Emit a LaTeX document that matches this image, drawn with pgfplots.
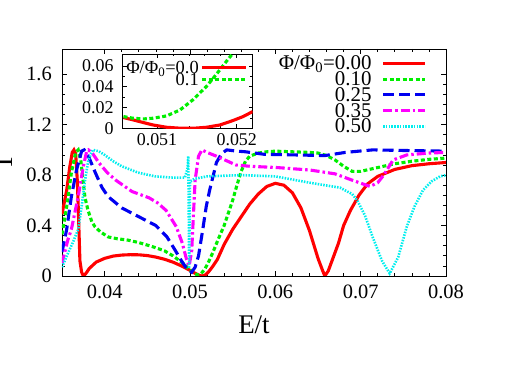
\documentclass[border=0pt]{standalone}
\usepackage{fontspec}
\setmainfont{Liberation Serif}
\usepackage{pgfplots}
\pgfplotsset{compat=1.18}

\definecolor{cred}{RGB}{255,0,0}
\definecolor{cgreen}{RGB}{0,238,0}
\definecolor{cblue}{RGB}{0,0,240}
\definecolor{cmag}{RGB}{255,0,255}
\definecolor{ccyan}{RGB}{0,238,238}

\pgfplotsset{
  redline/.style={cred, line width=3.1bp, solid},
  greenline/.style={cgreen, line width=3.1bp, dash pattern=on 4bp off 2.5bp},
  blueline/.style={cblue, line width=3.1bp, dash pattern=on 11bp off 5bp},
  magline/.style={cmag, line width=3.1bp, dash pattern=on 9bp off 3bp on 2.5bp off 3bp},
  cyanline/.style={ccyan, line width=2.6bp, dash pattern=on 1.5bp off 1.3bp},
}

\begin{document}
\begin{tikzpicture}
\useasboundingbox (0,0) rectangle (523bp,366bp);
\begin{axis}[
  at={(62bp,90bp)}, anchor=south west,
  scale only axis, width=384bp, height=227bp,
  xmin=0.035, xmax=0.08, ymin=0, ymax=1.8,
  scaled ticks=false,
  xtick={0.04,0.05,0.06,0.07,0.08},
  xticklabels={0.04,0.05,0.06,0.07,0.08},
  ytick={0,0.4,0.8,1.2,1.6},
  yticklabels={0,0.4,0.8,1.2,1.6},
  minor x tick num=4, minor y tick num=4,
  tick align=inside,
  major tick length=5bp, minor tick length=3bp,
  axis line style={line width=0.9bp},
  every tick/.style={black, line width=0.7bp},
  tick label style={font=\fontsize{20.5}{21}\selectfont, inner sep=0pt},
  xticklabel style={yshift=-9bp},
  yticklabel style={xshift=-10bp},
  xlabel={E/t}, ylabel={T},
  xlabel style={at={(axis description cs:0.5,-0.2555)}, anchor=base, font=\fontsize{27}{27}\selectfont},
  ylabel style={at={(axis description cs:-0.13,0.5)}, anchor=base, font=\fontsize{27}{27}\selectfont},
  legend cell align=right, legend plot pos=right,
  legend image code/.code={\path (0bp,0bp); \draw[#1] (10bp,0.33em) -- (52bp,0.33em);},
  legend style={at={(rel axis cs:0.95,0.958)}, anchor=north east, draw=none, fill=none,
    font=\fontsize{21}{20}\selectfont, row sep=0pt, inner sep=0pt,
    nodes={inner sep=0pt, text height=11bp, text depth=4.8bp}},
]
\addplot[redline] coordinates {
(0.0350,0.49) (0.03555,0.68) (0.0359,0.86) (0.0362,0.98) (0.0364,1.0) (0.0366,0.97)
(0.0368,0.75) (0.0369,0.55) (0.0371,0.12) (0.0373,0.03) (0.0375,0.0) (0.0378,0.02)
(0.0382,0.06) (0.039,0.11) (0.040,0.14) (0.041,0.158) (0.042,0.166) (0.043,0.169)
(0.044,0.168) (0.045,0.162) (0.046,0.150) (0.047,0.133) (0.048,0.110) (0.049,0.080)
(0.050,0.045) (0.0505,0.025) (0.051,0.008) (0.0514,0.0) (0.0518,0.008) (0.0522,0.035)
(0.0526,0.07) (0.0532,0.13) (0.054,0.25) (0.055,0.37) (0.056,0.47) (0.057,0.57)
(0.058,0.65) (0.059,0.71) (0.060,0.735) (0.061,0.72) (0.062,0.66) (0.063,0.54)
(0.064,0.36) (0.065,0.14) (0.0655,0.05) (0.0658,0.0) (0.0662,0.04) (0.0668,0.15)
(0.0674,0.26) (0.068,0.40) (0.0688,0.52) (0.0698,0.64) (0.0708,0.73) (0.072,0.79)
(0.074,0.845) (0.076,0.875) (0.078,0.89) (0.080,0.90)
};
\addlegendentry{Φ/Φ\textsubscript{0}=0.00}
\addplot[greenline] coordinates {
(0.0350,0.33) (0.03555,0.55) (0.0361,0.82) (0.0366,0.98) (0.0369,1.0) (0.0372,0.92)
(0.03746,0.76) (0.0377,0.62) (0.03805,0.52) (0.0385,0.43) (0.03887,0.39) (0.0395,0.35)
(0.0404,0.31) (0.0415,0.295) (0.0427,0.285) (0.044,0.265) (0.0455,0.235) (0.047,0.20)
(0.048,0.16) (0.0492,0.10) (0.050,0.05) (0.0505,0.02) (0.0509,0.009) (0.0513,0.02)
(0.0517,0.05) (0.0521,0.10) (0.0527,0.19) (0.0533,0.29) (0.054,0.40) (0.0545,0.50)
(0.055,0.60) (0.0555,0.72) (0.056,0.83) (0.0565,0.91) (0.057,0.95) (0.058,0.975)
(0.059,0.985) (0.060,0.99) (0.062,0.985) (0.064,0.98) (0.065,0.975) (0.066,0.955)
(0.067,0.92) (0.068,0.87) (0.069,0.83) (0.070,0.83) (0.071,0.845) (0.072,0.86)
(0.074,0.89) (0.076,0.91) (0.078,0.925) (0.080,0.935)
};
\addlegendentry{0.10}
\addplot[blueline] coordinates {
(0.0350,0.19) (0.03555,0.37) (0.0361,0.63) (0.0367,0.84) (0.0373,0.99) (0.0376,1.0)
(0.0381,0.95) (0.0389,0.82) (0.0397,0.70) (0.0404,0.63) (0.042,0.54) (0.044,0.47)
(0.046,0.40) (0.0473,0.31) (0.0483,0.20) (0.0490,0.12) (0.0496,0.06) (0.0502,0.03)
(0.0506,0.07) (0.0510,0.16) (0.0515,0.37) (0.0519,0.55) (0.0523,0.68) (0.0531,0.90)
(0.0537,0.97) (0.0543,1.0) (0.0555,0.99) (0.0565,0.985) (0.0587,0.965) (0.0623,0.96)
(0.0658,0.955) (0.0682,0.98) (0.0714,1.0) (0.0753,0.995) (0.080,0.99)
};
\addlegendentry{0.25}
\addplot[magline] coordinates {
(0.0350,0.10) (0.0357,0.29) (0.0361,0.37) (0.0369,0.63) (0.0375,0.87) (0.0379,0.99)
(0.0381,1.0) (0.0386,0.97) (0.0393,0.90) (0.0403,0.82) (0.0413,0.76) (0.0432,0.67)
(0.0452,0.62) (0.0462,0.58) (0.0472,0.52) (0.0484,0.39) (0.0491,0.26) (0.0496,0.13)
(0.0499,0.08) (0.0502,0.20) (0.0506,0.76) (0.0510,0.95) (0.0514,1.0) (0.0520,0.98)
(0.0531,0.95) (0.0554,0.88) (0.0570,0.87) (0.0602,0.86) (0.0641,0.84) (0.0670,0.81)
(0.0690,0.76) (0.0711,0.71) (0.0720,0.74) (0.0727,0.80) (0.0738,0.92) (0.0754,0.96)
(0.0780,0.975) (0.080,0.98)
};
\addlegendentry{0.35}
\addplot[cyanline] coordinates {
(0.0350,0.07) (0.0357,0.18) (0.0363,0.27) (0.0369,0.37) (0.0373,0.55) (0.0377,0.76)
(0.0381,0.92) (0.0386,1.0) (0.0393,0.99) (0.0400,0.96) (0.0410,0.91) (0.0420,0.87)
(0.0439,0.82) (0.0459,0.79) (0.0480,0.78) (0.0494,0.78) (0.0497,0.85) (0.0498,0.95)
(0.04985,0.55) (0.0499,0.06) (0.04995,0.45) (0.0500,0.75) (0.0505,0.77) (0.0520,0.79)
(0.0560,0.80) (0.0600,0.79) (0.0640,0.74) (0.0676,0.70) (0.0690,0.65) (0.0696,0.60)
(0.0705,0.48) (0.0714,0.31) (0.0725,0.12) (0.0734,0.02) (0.0744,0.15) (0.0754,0.39)
(0.0763,0.55) (0.0773,0.68) (0.0783,0.75) (0.0793,0.79) (0.080,0.80)
};
\addlegendentry{0.50}
\end{axis}

\begin{axis}[
  at={(122.7bp,237.7bp)}, anchor=south west,
  scale only axis, width=130bp, height=74.3bp,
  xmin=0.05057, xmax=0.0522, ymin=0, ymax=0.0715,
  scaled ticks=false,
  xtick={0.051,0.052}, xticklabels={0.051,0.052},
  ytick={0,0.02,0.04,0.06}, yticklabels={0,0.02,0.04,0.06},
  minor x tick num=4, minor y tick num=1,
  tick align=inside,
  major tick length=4bp, minor tick length=2.5bp,
  axis line style={line width=0.9bp},
  every tick/.style={black, line width=0.7bp},
  axis background/.style={fill=white},
  tick label style={font=\fontsize{18}{18}\selectfont, inner sep=0pt},
  xticklabel style={yshift=-5bp},
  yticklabel style={xshift=-9bp},
  legend cell align=right, legend plot pos=right,
  legend image code/.code={\path (0bp,0bp); \draw[#1] (2bp,0.33em) -- (46bp,0.33em);},
  legend style={at={(rel axis cs:0.964,0.852)}, anchor=north east, draw=none, fill=none,
    font=\fontsize{18.5}{17}\selectfont, row sep=0pt, inner sep=0pt,
    nodes={inner sep=0pt, text height=8.5bp, text depth=3.5bp}},
]
\addplot[redline] coordinates {
(0.05058,0.0103) (0.05070,0.0081) (0.05083,0.0055) (0.05095,0.0032) (0.05112,0.0010)
(0.05129,0.0001) (0.05145,0.0) (0.05162,0.0010) (0.05179,0.0032) (0.05195,0.0074)
(0.05208,0.0113) (0.05220,0.0161)
};
\addlegendentry{Φ/Φ\textsubscript{0}=0.0}
\addplot[greenline] coordinates {
(0.05058,0.0113) (0.05070,0.0097) (0.05083,0.0090) (0.05095,0.0097) (0.05112,0.0119)
(0.05129,0.0177) (0.05145,0.0274) (0.05162,0.0403) (0.05174,0.0515) (0.05187,0.0644)
(0.05195,0.0720)
};
\addlegendentry{0.1}
\end{axis}
\end{tikzpicture}
\end{document}
